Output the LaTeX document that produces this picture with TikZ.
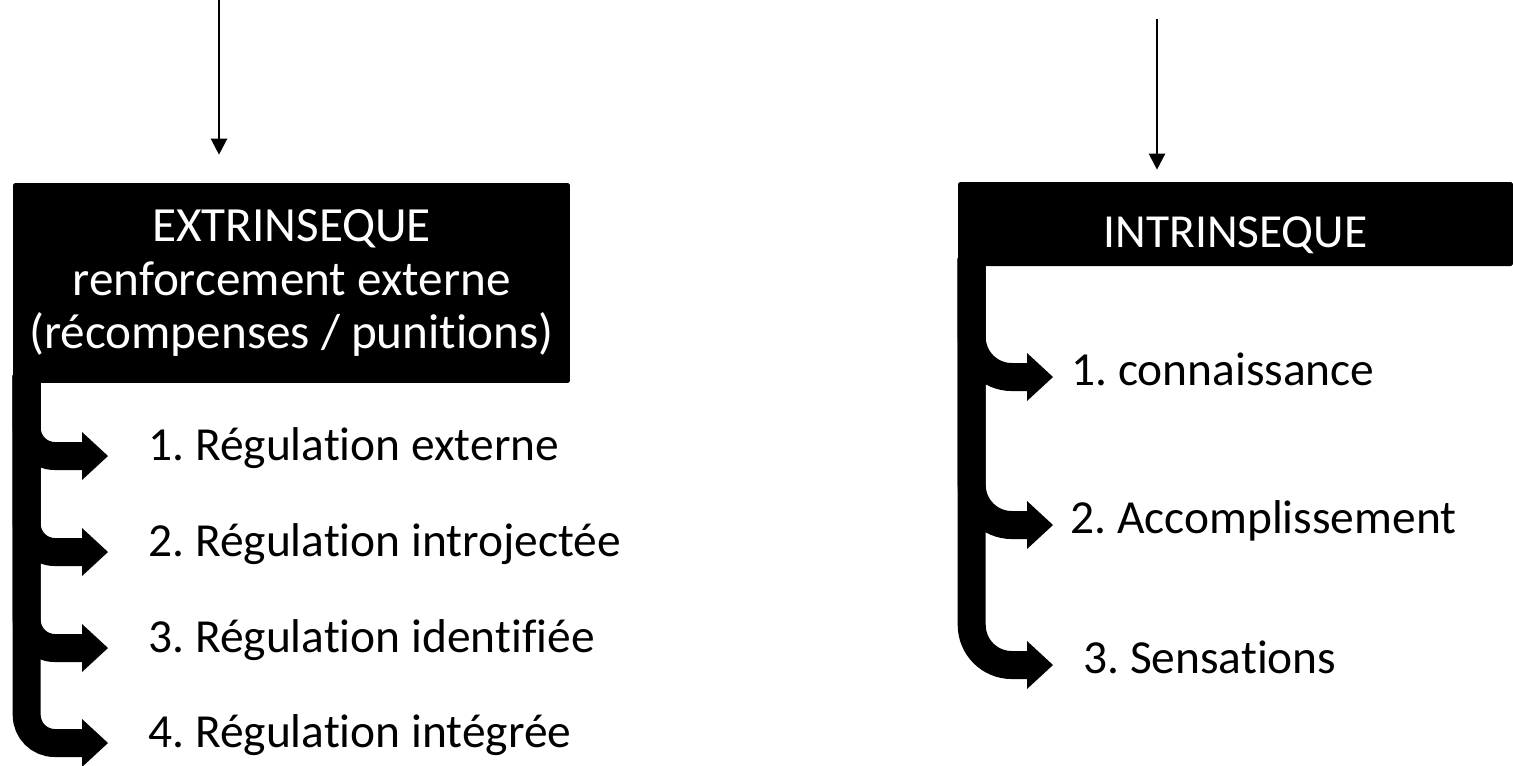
\documentclass[tikz,border=0pt]{standalone}
\usepackage{fontspec}
\setmainfont[Ligatures=NoCommon]{Carlito}
\frenchspacing
\usetikzlibrary{arrows.meta,calc}
\tikzset{
  titlebox/.style={fill=black, text=white, rounded corners=1pt, align=center, inner sep=0pt},
  item/.style={anchor=base west, inner sep=0pt, font=\fontsize{27}{30}\selectfont},
  bentarrow/.style={draw=black, line width=0.56cm, rounded corners=0.56cm, -{Triangle[width=0.96cm, length=0.52cm, line width=0pt]}},
  feed/.style={draw=black, line width=1.3pt, -{Triangle[width=0.32cm, length=0.32cm]}}
}
\begin{document}
\begin{tikzpicture}[x=0.02cm, y=-0.02cm]
  \useasboundingbox (0,0) rectangle (1513,765);
  % the two kinds
  \node[titlebox, minimum width=11.14cm, minimum height=4cm, font=\fontsize{28}{30.4}\selectfont] (extr) at (291.5,283) {EXTRINSEQUE\\renforcement externe\\(récompenses / punitions)};
  \node[titlebox, minimum width=11.1cm, minimum height=1.68cm, text height=0.92cm, text depth=0pt, font=\fontsize{27}{30}\selectfont] (intr) at (1235.5,224) {INTRINSEQUE};

  % incoming arrows
  \coordinate (inL) at (219,0);
  \coordinate (inR) at (1157,19);
  \draw[feed] (inL) -- ([yshift=0.56cm]inL |- extr.north);
  \draw[feed] (inR) -- ([yshift=0.24cm]inR |- intr.north);

  % extrinseque
  \node[item] (ext1) at (148,460) {1. Régulation externe};
  \node[item] (ext2) at (148,556) {2. Régulation introjectée};
  \node[item] (ext3) at (148,652) {3. Régulation identifiée};
  \node[item] (ext4) at (148,747) {4. Régulation intégrée};
  \coordinate (lbar) at ($(extr.south west)+(14,-8)$);
  \foreach \i in {1,...,4}
    \draw[bentarrow] (lbar) |- ([xshift=-0.8cm, yshift=0.08cm]ext\i.base west);

  % intrinseque
  \node[item] (int1) at (1071,385) {1. connaissance};
  \node[item] (int2) at (1070,533) {2. Accomplissement};
  \node[item] (int3) at (1083,673) {3. Sensations};
  \coordinate (rbar) at ($(intr.south west)+(14,-8)$);
  \coordinate (rtip) at (1053,0);
  \foreach \i in {1,2,3}
    \draw[bentarrow, rounded corners=0.8cm] (rbar) |- ([yshift=0.16cm]rtip |- int\i.base);
\end{tikzpicture}
\end{document}
